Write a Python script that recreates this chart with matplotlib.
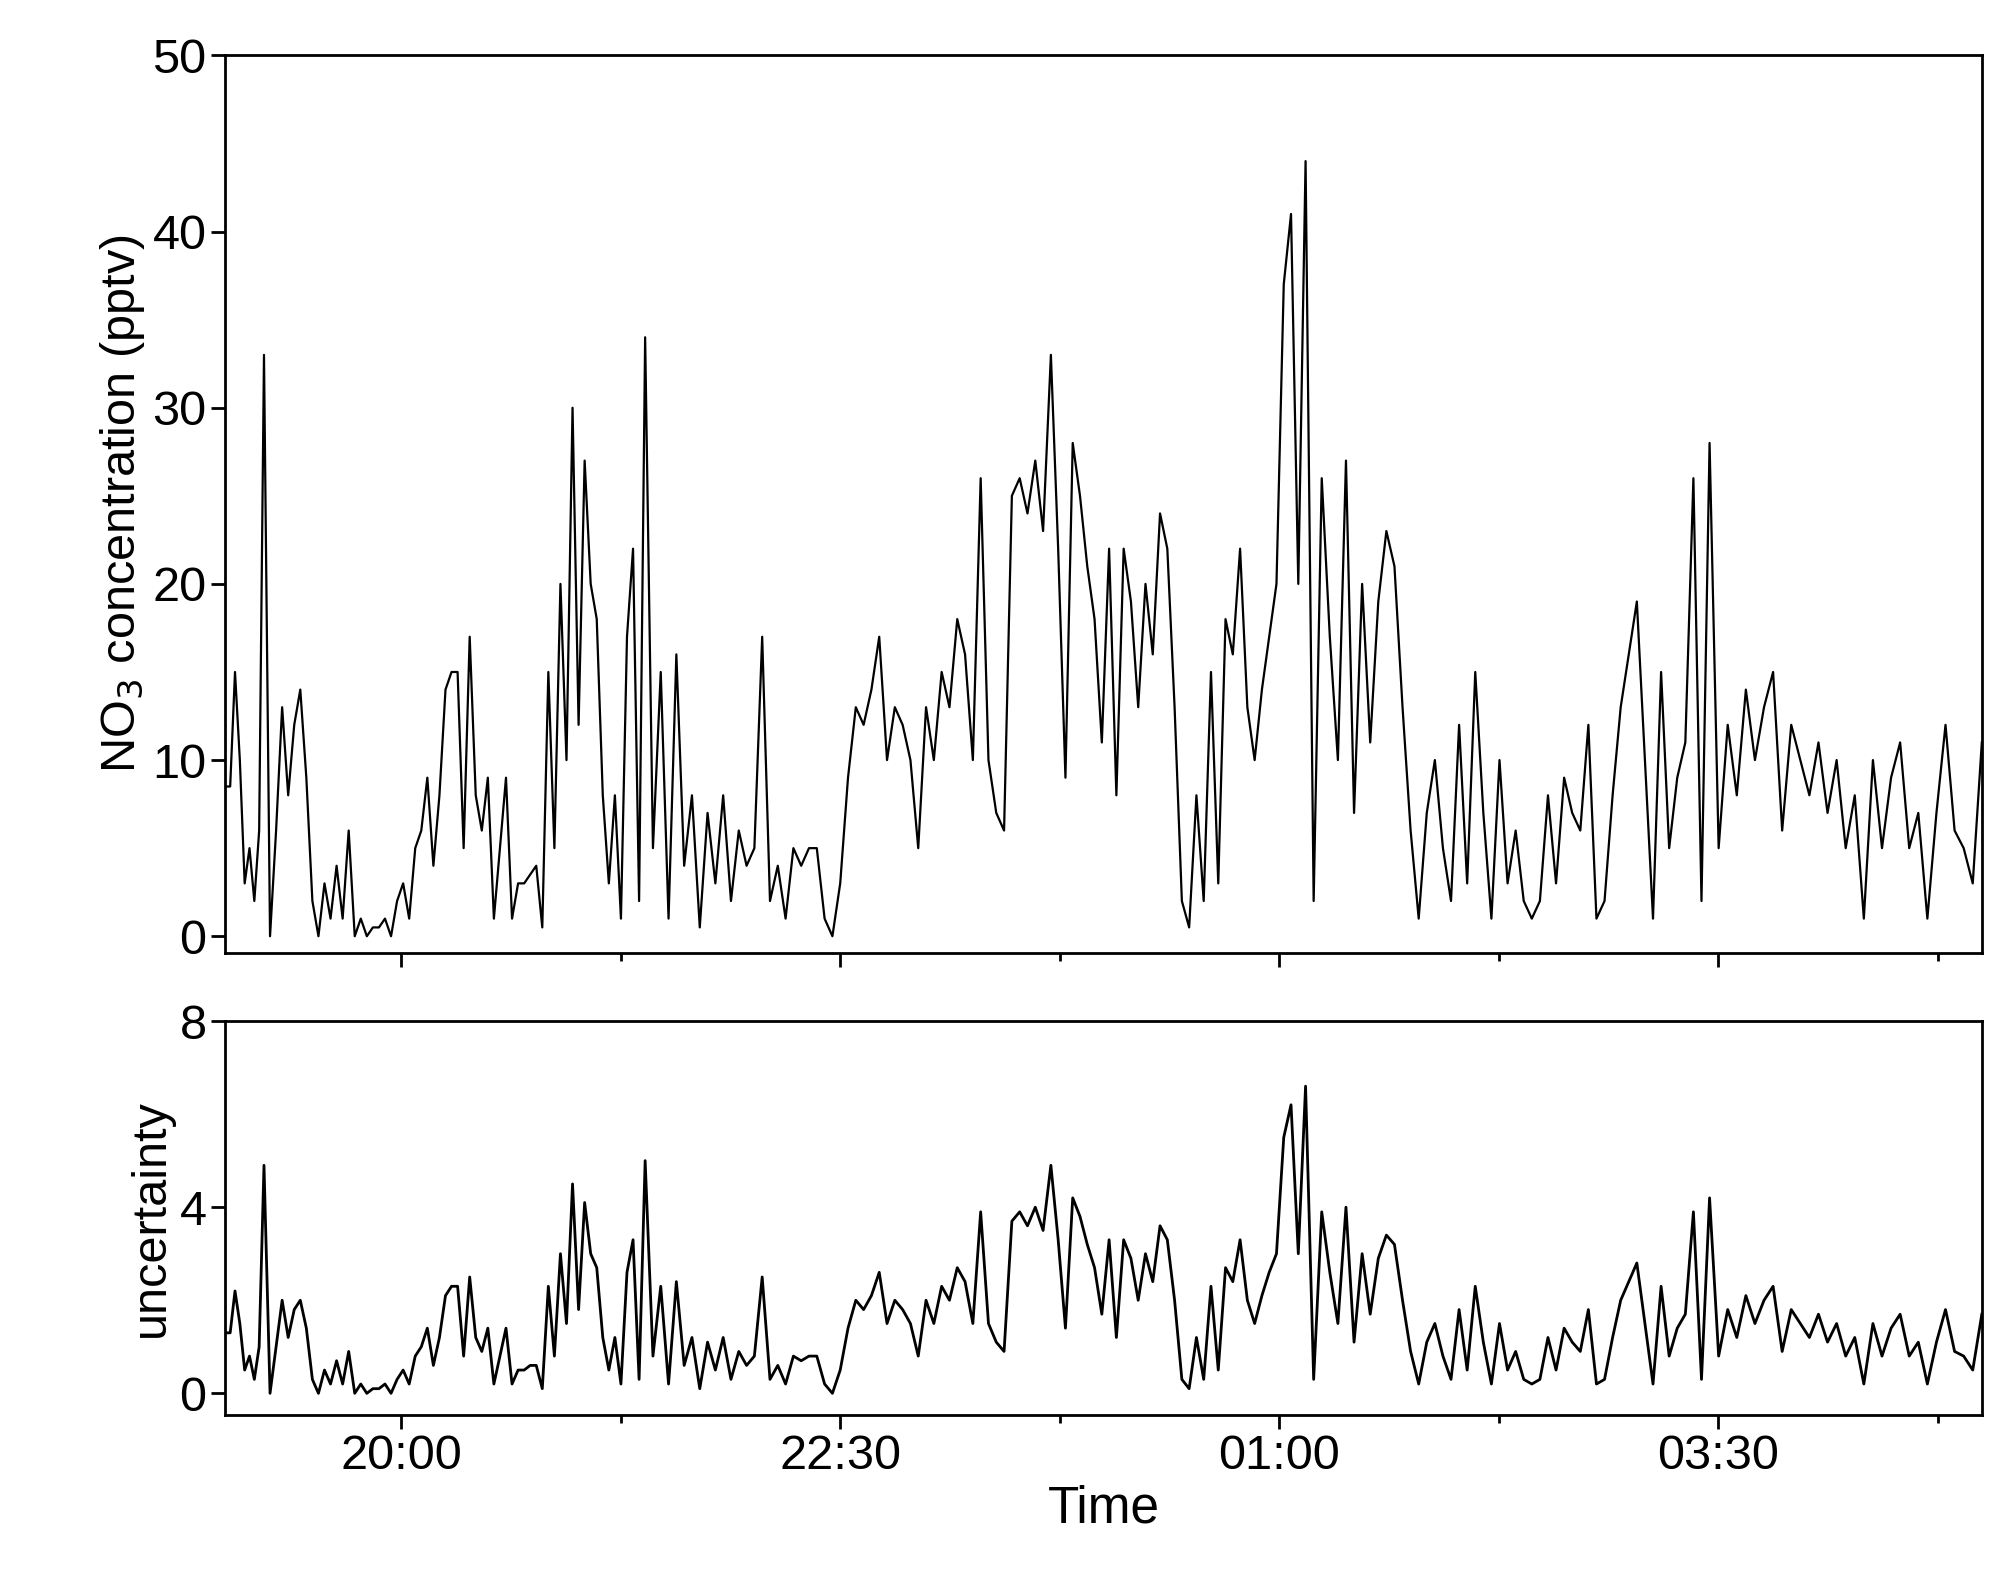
import matplotlib
matplotlib.use("Agg")
import matplotlib.pyplot as plt
import numpy as np

plt.rcParams['font.family'] = ['Liberation Sans', 'DejaVu Sans']

no3 = [8.5, 8.5, 15, 10, 3, 5, 2, 6, 33, 0, 6, 13, 8, 12, 14, 9, 2, 0, 3, 1, 4, 1, 6, 0, 1, 0, 0.5, 0.5, 1, 0,
       2, 3, 1, 5, 6, 9, 4, 8, 14, 15, 15, 5, 17, 8, 6, 9, 1, 5, 9, 1, 3, 3, 3.5, 4, 0.5, 15, 5, 20, 10, 30,
       12, 27, 20, 18, 8, 3, 8, 1, 17, 22, 2, 34, 5, 15, 1, 16, 4, 8, 0.5, 7, 3, 8, 2, 6, 4, 5, 17, 2, 4, 1,
       5, 4, 5, 5, 1, 0, 3, 9, 13, 12, 14, 17, 10, 13, 12, 10, 5, 13, 10, 15, 13, 18, 16, 10, 26, 10, 7, 6, 25, 26,
       24, 27, 23, 33, 22, 9, 28, 25, 21, 18, 11, 22, 8, 22, 19, 13, 20, 16, 24, 22, 13, 2, 0.5, 8, 2, 15, 3, 18,
       16, 22, 13, 10, 14, 17, 20, 37, 41, 20, 44, 2, 26, 17, 10, 27, 7, 20, 11, 19, 23, 21, 13, 6, 1, 7, 10, 5,
       2, 12, 3, 15, 7, 1, 10, 3, 6, 2, 1, 2, 8, 3, 9, 7, 6, 12, 1, 2, 8, 13, 16, 19, 10, 1, 15, 5, 9, 11,
       26, 2, 28, 5, 12, 8, 14, 10, 13, 15, 6, 12, 10, 8, 11, 7, 10, 5, 8, 1, 10, 5, 9, 11, 5, 7, 1, 7, 12, 6,
       5, 3, 11]

unc = [1.3, 1.3, 2.2, 1.5, 0.5, 0.8, 0.3, 1.0, 4.9, 0.0, 1.0, 2.0, 1.2, 1.8, 2.0, 1.4, 0.3, 0.0, 0.5, 0.2, 0.7, 0.2, 0.9, 0.0, 0.2, 0.0, 0.1, 0.1, 0.2, 0.0,
       0.3, 0.5, 0.2, 0.8, 1.0, 1.4, 0.6, 1.2, 2.1, 2.3, 2.3, 0.8, 2.5, 1.2, 0.9, 1.4, 0.2, 0.8, 1.4, 0.2, 0.5, 0.5, 0.6, 0.6, 0.1, 2.3, 0.8, 3.0, 1.5, 4.5,
       1.8, 4.1, 3.0, 2.7, 1.2, 0.5, 1.2, 0.2, 2.6, 3.3, 0.3, 5.0, 0.8, 2.3, 0.2, 2.4, 0.6, 1.2, 0.1, 1.1, 0.5, 1.2, 0.3, 0.9, 0.6, 0.8, 2.5, 0.3, 0.6, 0.2,
       0.8, 0.7, 0.8, 0.8, 0.2, 0.0, 0.5, 1.4, 2.0, 1.8, 2.1, 2.6, 1.5, 2.0, 1.8, 1.5, 0.8, 2.0, 1.5, 2.3, 2.0, 2.7, 2.4, 1.5, 3.9, 1.5, 1.1, 0.9, 3.7, 3.9,
       3.6, 4.0, 3.5, 4.9, 3.3, 1.4, 4.2, 3.8, 3.2, 2.7, 1.7, 3.3, 1.2, 3.3, 2.9, 2.0, 3.0, 2.4, 3.6, 3.3, 2.0, 0.3, 0.1, 1.2, 0.3, 2.3, 0.5, 2.7,
       2.4, 3.3, 2.0, 1.5, 2.1, 2.6, 3.0, 5.5, 6.2, 3.0, 6.6, 0.3, 3.9, 2.6, 1.5, 4.0, 1.1, 3.0, 1.7, 2.9, 3.4, 3.2, 2.0, 0.9, 0.2, 1.1, 1.5, 0.8,
       0.3, 1.8, 0.5, 2.3, 1.1, 0.2, 1.5, 0.5, 0.9, 0.3, 0.2, 0.3, 1.2, 0.5, 1.4, 1.1, 0.9, 1.8, 0.2, 0.3, 1.2, 2.0, 2.4, 2.8, 1.5, 0.2, 2.3, 0.8, 1.4, 1.7,
       3.9, 0.3, 4.2, 0.8, 1.8, 1.2, 2.1, 1.5, 2.0, 2.3, 0.9, 1.8, 1.5, 1.2, 1.7, 1.1, 1.5, 0.8, 1.2, 0.2, 1.5, 0.8, 1.4, 1.7, 0.8, 1.1, 0.2, 1.1, 1.8, 0.9,
       0.8, 0.5, 1.7]

# sample-index -> time (hours) anchors read from the main peaks
anchor_idx = [0, 8, 71, 123, 158, 208, 238]
anchor_time = [19.0, 19.22, 21.39, 23.70, 25.15, 27.45, 29.0]

tick_pos = [20.0, 22.5, 25.0, 27.5]
tick_labels = ["20:00", "22:30", "01:00", "03:30"]

t1 = np.interp(np.arange(len(no3)), anchor_idx, anchor_time)
t2 = np.interp(np.arange(len(unc)), anchor_idx, anchor_time)

fig = plt.figure(figsize=(20.12, 15.83), dpi=100)
ax1 = fig.add_axes([0.112, 0.398, 0.873, 0.567])
ax2 = fig.add_axes([0.112, 0.106, 0.873, 0.249])

ax1.plot(t1, no3, color='black', lw=1.6)
ax2.plot(t2, unc, color='black', lw=2.0)

for ax in (ax1, ax2):
    ax.set_xlim(19.0, 29.0)
    ax.set_xticks(tick_pos)
    ax.set_xticks([21.25, 23.75, 26.25, 28.75], minor=True)
    ax.tick_params(axis='both', which='major', labelsize=35, width=2, length=10, direction='out')
    ax.tick_params(axis='x', which='minor', width=2, length=6, direction='out')
    for s in ax.spines.values():
        s.set_linewidth(2)

ax1.set_ylim(-0.95, 50)
ax1.set_yticks([0, 10, 20, 30, 40, 50])
ax1.set_xticklabels([])
ax1.set_ylabel("NO$_3$ concentration (pptv)", fontsize=35)

ax2.set_ylim(-0.47, 8)
ax2.set_yticks([0, 4, 8])
ax2.set_xticklabels(tick_labels)
ax2.set_ylabel("uncertainty", fontsize=35)
ax2.set_xlabel("Time", fontsize=37)

fig.savefig("out.png", dpi=100)
